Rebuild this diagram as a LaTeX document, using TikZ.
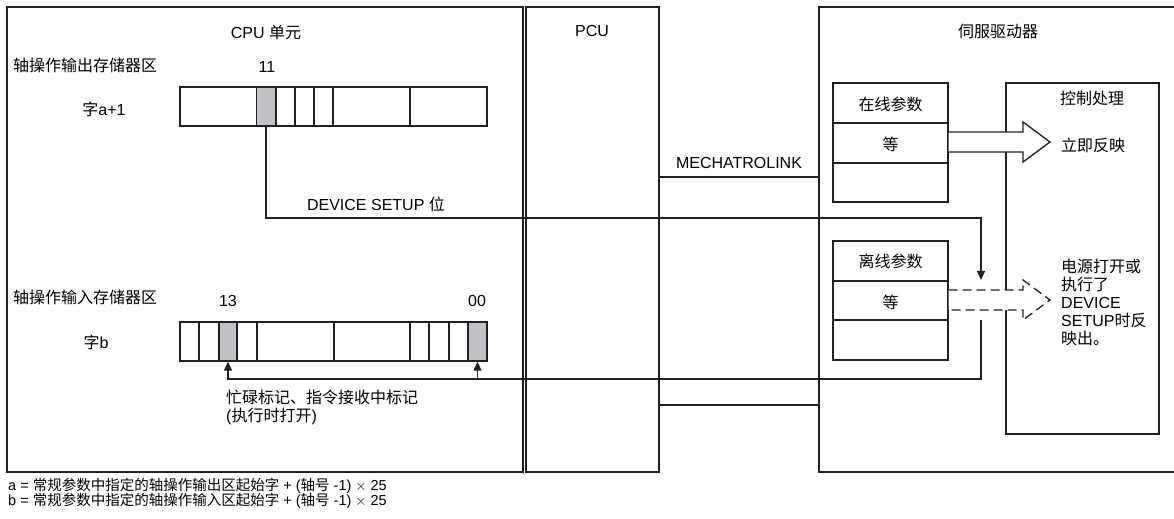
\documentclass[tikz,border=0pt]{standalone}
\usepackage{fontspec}
\setmainfont{Liberation Sans}
\newfontfamily\cjk{Noto Sans CJK SC}
\usetikzlibrary{arrows.meta}
\definecolor{linec}{RGB}{35,31,32}
\definecolor{cellgray}{RGB}{192,194,200}
\begin{document}
\begin{tikzpicture}[x=1bp,y=-1bp,
  lbl/.style={inner sep=0pt, font=\fontsize{16bp}{18bp}\selectfont},
  foot/.style={inner sep=0pt, anchor=west, font=\fontsize{14.5bp}{15bp}\selectfont},
  box/.style={draw=linec, line width=1.3bp, inner sep=0pt},
  gcell/.style={box, fill=cellgray, minimum height=39bp},
  conn/.style={draw=linec, line width=1.3bp},
  arr/.style={conn, -{Triangle[length=9bp,width=8bp]}},
  blk/.style={draw=linec, line width=1.3bp, fill=white, line join=miter},
  dsh/.style={blk, dash pattern=on 9bp off 5bp}
]
\useasboundingbox (0,0) rectangle (1174,519);
\fill[white] (0,0) rectangle (1174,519);

% main containers
\node[box, minimum width=516bp, minimum height=465bp] (cpu) at (265,239.5) {};
\node[box, minimum width=133bp, minimum height=465bp] (pcu) at (592.5,239.5) {};
\coordinate (svTL) at (819,7);
\coordinate (svBL) at (819,472);
\draw[conn] (1174,7) -- (svTL) -- (svBL) -- (1174,472);

% headings
\node[lbl] (cpuT) at (266,32) {CPU {\cjk 单元}};
\node[lbl] (pcuT) at (592,31) {PCU};
\node[lbl] (svT) at (998,31) {\cjk 伺服驱动器};

% output memory area
\node[lbl, anchor=west] (outT) at (13,65) {\cjk 轴操作输出存储器区};
\node[lbl] (n11) at (267,67) {11};
\node[lbl] (wa) at (104,109) {{\cjk 字}a+1};
\draw[conn] (180,87) rectangle (487,126);
\foreach \x in {276,295,314,333,410} \draw[conn] (\x,87) -- (\x,126);
\node[gcell, minimum width=19bp] (b11) at (266,106.5) {};

% input memory area
\node[lbl, anchor=west] (inT) at (13,297) {\cjk 轴操作输入存储器区};
\node[lbl] (n13) at (228,301) {13};
\node[lbl] (n00) at (477,301) {00};
\node[lbl] (wb) at (96,342) {{\cjk 字}b};
\draw[conn] (180,322) rectangle (487,361);
\foreach \x in {199,257,334,410,429,449} \draw[conn] (\x,322) -- (\x,361);
\node[gcell, minimum width=18bp] (b13) at (228,341.5) {};
\node[gcell, minimum width=19bp] (b00) at (477.5,341.5) {};

\node[lbl] (dsT) at (376,204) {DEVICE SETUP {\cjk 位}};
\node[lbl, anchor=west] (busy1) at (226,397) {\cjk 忙碌标记、指令接收中标记};
\node[lbl, anchor=west] (busy2) at (226,416) {({\cjk 执行时打开})};

% MECHATROLINK
\node[lbl] (mlT) at (739,163) {MECHATROLINK};
\draw[conn] (pcu.east |- 0,177) -- (svTL |- 0,177);
\draw[conn] (pcu.east |- 0,405) -- (svTL |- 0,405);

% online parameters
\node[box, minimum width=115bp, minimum height=40bp] (on1) at (890.5,103) {};
\node[box, minimum width=115bp, minimum height=40bp] (on2) at (890.5,143) {};
\node[box, minimum width=115bp, minimum height=39bp] (on3) at (890.5,182.5) {};
\node[lbl] (on1T) at (890.5,104) {\cjk 在线参数};
\node[lbl] (on2T) at (890.5,144) {\cjk 等};

% offline parameters
\node[box, minimum width=115bp, minimum height=40bp] (off1) at (890.5,261) {};
\node[box, minimum width=115bp, minimum height=39bp] (off2) at (890.5,300.5) {};
\node[box, minimum width=115bp, minimum height=40bp] (off3) at (890.5,340) {};
\node[lbl] (off1T) at (890.5,261) {\cjk 离线参数};
\node[lbl] (off2T) at (890.5,302) {\cjk 等};

% control processing
\node[box, minimum width=153bp, minimum height=351bp] (ctrl) at (1082.5,258.5) {};
\node[lbl] (ctrlT) at (1092,98) {\cjk 控制处理};
\node[lbl, anchor=west] (immT) at (1061,145) {\cjk 立即反映};
\node[lbl, anchor=west, align=left, font=\fontsize{16bp}{18bp}\selectfont] (pwrT) at (1061,302)
  {{\cjk 电源打开或}\\{\cjk 执行了}\\DEVICE\\SETUP{\cjk 时反}\\{\cjk 映出。}};

% block arrows
\draw[blk] (on2.east |- 0,132) -- (1023,132) -- (1023,122) -- (1050,142) -- (1023,162) -- (1023,152) -- (on2.east |- 0,152);
\draw[dsh] (off2.east |- 0,290) -- (1023,290) -- (1023,280) -- (1050,300) -- (1023,320) -- (1023,310) -- (off2.east |- 0,310);

% DEVICE SETUP bit connector
\coordinate (dsTip) at (981,280);
\draw[arr] (b11.south) |- (dsTip |- 0,218) -- (dsTip);

% busy flag connector
\coordinate (bsStart) at (981,320);
\coordinate (busyY) at (0,379);
\draw[arr] (bsStart) |- (b13.south |- busyY) -- (b13.south);
\draw[arr] (b00.south |- busyY) -- (b00.south);

% footnotes
\node[foot] (f1) at (8,486) {a = {\cjk 常规参数中指定的轴操作输出区起始字} + ({\cjk 轴号} -1) $\times$ 25};
\node[foot] (f2) at (8,501) {b = {\cjk 常规参数中指定的轴操作输入区起始字} + ({\cjk 轴号} -1) $\times$ 25};
\end{tikzpicture}
\end{document}
